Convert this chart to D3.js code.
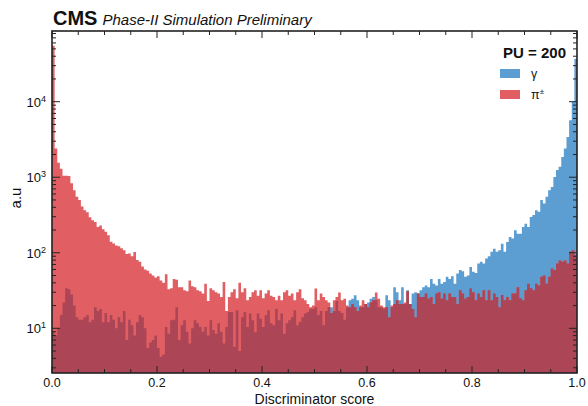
<!DOCTYPE html>
<html>
<head>
<meta charset="utf-8">
<script src="https://cdn.jsdelivr.net/npm/d3@7"></script>
<style>
  body { margin: 0; background: #fff; }
  text { font-family: "Liberation Sans", Arial, sans-serif; fill: #111; }
</style>
</head>
<body>
<svg id="chart"></svg>
<script>
// discriminator score histogram, 200 bins from 0 to 1
let nBins = 200;

let pionCounts = [
    55000, 2400, 1550, 1300, 1050, 1050, 1040, 830, 670, 550,
    500, 410, 365, 345, 295, 270, 255, 220, 230, 205,
    190, 170, 140, 133, 125, 122, 115, 108, 96, 98,
    90, 102, 80, 76, 66, 60, 58, 53, 50, 47,
    49, 43, 40, 52, 33, 34, 45, 44, 35, 35,
    32, 31, 43, 36, 35, 32, 31, 29, 39, 23,
    34, 32, 30, 29, 26, 41, 17, 26, 30, 33,
    25, 40, 30, 34, 23.5, 26, 30, 32, 27, 32,
    25, 29, 32, 27, 26, 23.5, 27, 23.5, 30, 32,
    27, 29, 23.5, 30, 33, 25, 23.5, 21, 19, 20,
    33.6, 23.5, 29, 26, 23.5, 22, 16, 23.5, 26, 29.7,
    23.5, 24.7, 20, 19, 21, 19, 17, 20, 23.5, 21,
    19, 22, 23.5, 29.7, 24.7, 20, 19, 19, 14, 20,
    21, 23.5, 21, 21, 22, 31, 21, 18, 14, 29,
    26, 26, 29, 24.7, 26, 21, 29, 30, 24.7, 29,
    23.5, 29, 26, 26, 21, 32, 29, 24.7, 26, 33.6,
    30, 23.5, 29, 26, 32, 23.5, 32, 23.5, 29, 26,
    19, 27.5, 23.5, 26, 23.5, 29, 29, 35, 25, 23.5,
    32, 39, 34, 32, 39, 37, 48, 50, 39, 48,
    62, 59, 72, 79, 76, 79, 72, 103, 108, 93
];

let gammaCounts = [
    9, 8, 10, 15, 22, 34, 33, 28, 20, 14,
    13, 13, 14, 15, 12, 13, 19, 17, 18, 12,
    16, 12, 15, 13, 10, 14, 12, 17, 7, 13,
    11, 8, 12, 15, 14, 10, 5.5, 6.5, 7, 8,
    5.5, 4.2, 4.5, 10.4, 8.5, 12.8, 13, 19, 7, 11,
    12.8, 9, 6.3, 10, 12.8, 11.7, 10.4, 9, 10.4, 8,
    12.8, 9.5, 8.5, 11.7, 9, 6.3, 10.4, 16.4, 16.4, 5.7,
    17.3, 5, 14, 16.4, 10.4, 15.7, 12.8, 8.9, 15.7, 13.4,
    10.4, 14.9, 17.3, 11.7, 11, 18.2, 12.8, 15.7, 8.5, 11.7,
    12.8, 14, 17.3, 11, 12.2, 14, 15.7, 16.4, 18.2, 18,
    19, 15, 17, 11, 17, 19, 19, 17, 23, 17,
    16, 13, 19, 23.5, 24.7, 27.4, 23.5, 19, 19, 21,
    22, 24.7, 26, 23.5, 19, 19, 18, 27.4, 23.5, 19,
    35, 30, 23.5, 35, 21, 32, 21, 29, 30, 29,
    32, 35, 37, 35, 45, 39, 37, 45, 39, 41,
    48, 45, 49, 39, 53, 59, 57, 48, 50, 65,
    56, 54, 72, 76, 72, 84, 90, 103, 113, 103,
    108, 132, 103, 139, 162, 154, 198, 179, 179, 219,
    243, 219, 297, 316, 365, 348, 500, 450, 550, 670,
    740, 1010, 1250, 1380, 1850, 2400, 3400, 5700, 10000, 37000
];

let xTickValues = [0, 0.2, 0.4, 0.6, 0.8, 1.0];
let yTickExponents = [1, 2, 3, 4];
let legendLabels = [['\u03b3', ''], ['\u03c0', '\u00b1']];

let colors = {gamma: '#5c9dd2', pion: '#e15e63', overlap: '#ac4656'};

let margin = {top: 31, right: 11, bottom: 33, left: 52};
let W = 588, H = 406;
let width = W - margin.left - margin.right;
let height = H - margin.top - margin.bottom;

let svg = d3.select('#chart').attr('width', W).attr('height', H);
let g = svg.append('g').attr('transform', 'translate(' + margin.left + ',' + margin.top + ')');

let xScale = d3.scaleLinear().domain([0, 1]).range([0, width]);
let yScale = d3.scaleLog().domain([2.56, 86300]).range([height, 0]).clamp(true);

g.append('defs').append('clipPath').attr('id', 'plotclip')
    .append('rect').attr('width', width).attr('height', height);

function toSteps(counts) {
    let pts = counts.map((v, i) => ({x: i / nBins, v: v}));
    pts.push({x: 1, v: counts[counts.length - 1]});
    return pts;
}

let area = d3.area()
    .x(d => xScale(d.x))
    .y0(height)
    .y1(d => yScale(d.v))
    .curve(d3.curveStepAfter);

let overlapCounts = pionCounts.map((v, i) => Math.min(v, gammaCounts[i]));

let hist = g.append('g').attr('clip-path', 'url(#plotclip)');
hist.append('path').attr('d', area(toSteps(gammaCounts))).attr('fill', colors.gamma);
hist.append('path').attr('d', area(toSteps(pionCounts))).attr('fill', colors.pion);
hist.append('path').attr('d', area(toSteps(overlapCounts))).attr('fill', colors.overlap);

// ticks, pointing inward on all four sides
let tickColor = '#222';
let xMinor = d3.range(0, 1.0001, 0.05).filter(v => !xTickValues.some(t => Math.abs(t - v) < 1e-6));
let yMinor = [];
for (let e = 0; e <= 4; e++) {
    for (let m = 2; m <= 9; m++) {
        let v = m * Math.pow(10, e);
        if (v > 2.56 && v < 86300) yMinor.push(v);
    }
}

let ticks = g.append('g').attr('stroke', tickColor).attr('stroke-width', 1);
xTickValues.forEach(function (t) {
    ticks.append('line').attr('x1', xScale(t)).attr('x2', xScale(t)).attr('y1', height).attr('y2', height - 7);
    ticks.append('line').attr('x1', xScale(t)).attr('x2', xScale(t)).attr('y1', 0).attr('y2', 7);
});
xMinor.forEach(function (t) {
    ticks.append('line').attr('x1', xScale(t)).attr('x2', xScale(t)).attr('y1', height).attr('y2', height - 4);
    ticks.append('line').attr('x1', xScale(t)).attr('x2', xScale(t)).attr('y1', 0).attr('y2', 4);
});
yTickExponents.forEach(function (e) {
    let y = yScale(Math.pow(10, e));
    ticks.append('line').attr('x1', 0).attr('x2', 8).attr('y1', y).attr('y2', y);
    ticks.append('line').attr('x1', width).attr('x2', width - 8).attr('y1', y).attr('y2', y);
});
yMinor.forEach(function (v) {
    let y = yScale(v);
    ticks.append('line').attr('x1', 0).attr('x2', 4).attr('y1', y).attr('y2', y);
    ticks.append('line').attr('x1', width).attr('x2', width - 4).attr('y1', y).attr('y2', y);
});

// frame
g.append('rect').attr('width', width).attr('height', height)
    .attr('fill', 'none').attr('stroke', '#222').attr('stroke-width', 1.6);

// tick labels
g.selectAll('.xlabel').data(xTickValues).enter().append('text')
    .attr('x', d => xScale(d)).attr('y', height + 14)
    .attr('text-anchor', 'middle').style('font-size', '12.5px')
    .text(d => d.toFixed(1));

let yl = g.selectAll('.ylabel').data(yTickExponents).enter().append('text')
    .attr('x', -6).attr('y', d => yScale(Math.pow(10, d)) + 5)
    .attr('text-anchor', 'end').style('font-size', '13px');
yl.append('tspan').text('10');
yl.append('tspan').attr('dy', -5).style('font-size', '9px').text(d => d);

// axis titles
svg.append('text').attr('x', margin.left + width / 2).attr('y', 404)
    .attr('text-anchor', 'middle').style('font-size', '14px').text('Discriminator score');
svg.append('text').attr('transform', 'translate(21,' + (margin.top + height / 2 - 4) + ') rotate(-90)')
    .attr('text-anchor', 'middle').style('font-size', '15px').text('a.u');

// CMS label
let cms = svg.append('text').attr('x', 53).attr('y', 25);
cms.append('tspan').style('font-size', '20px').style('font-weight', 'bold').text('CMS');
cms.append('tspan').attr('dx', 5).style('font-size', '15px').style('font-style', 'italic')
    .text('Phase-II Simulation Preliminary');

// legend
let legend = svg.append('g');
legend.append('text').attr('x', 566).attr('y', 58).attr('text-anchor', 'end')
    .style('font-size', '15px').style('font-weight', 'bold').text('PU = 200');
[colors.gamma, colors.pion].forEach(function (c, i) {
    legend.append('rect').attr('x', 500).attr('y', 69 + i * 21).attr('width', 20).attr('height', 9).attr('fill', c);
    let t = legend.append('text').attr('x', 531).attr('y', 78 + i * 21).style('font-size', '12.5px');
    t.append('tspan').text(legendLabels[i][0]);
    if (legendLabels[i][1]) {
        t.append('tspan').attr('dy', -5).style('font-size', '8px').text(legendLabels[i][1]);
    }
});
</script>
</body>
</html>
